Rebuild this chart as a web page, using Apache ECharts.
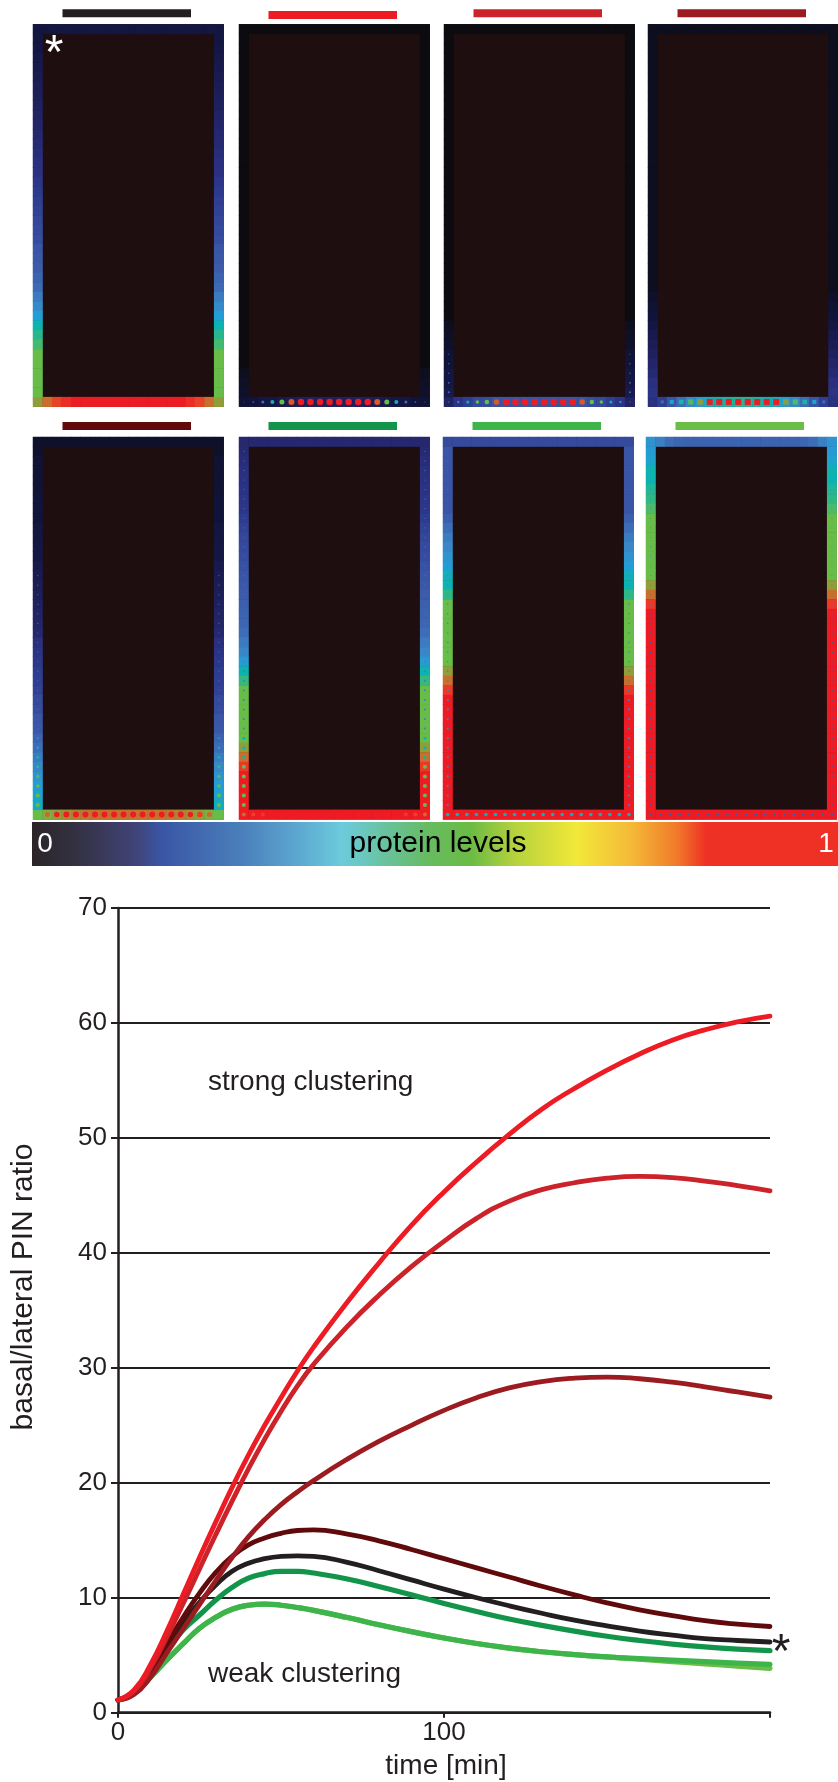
<!DOCTYPE html>
<html><head><meta charset="utf-8">
<script src="https://cdn.jsdelivr.net/npm/echarts@6/dist/echarts.min.js"></script>
<style>html,body{margin:0;padding:0;background:#fff}#c{width:838px;height:1782px}</style>
</head><body><div id="c"></div>
<script>
// ---------------- line chart data ----------------
const times = [0,5,10,15,20,25,30,35,40,45,50,55,60,70,80,90,100,110,120,130,140,150,160,170,180,190,200];
const ratioP1 = [1.1,1.8,3.5,5.8,7.8,9.6,11.1,12.3,13.0,13.4,13.6,13.65,13.6,13.1,12.35,11.55,10.75,10.0,9.3,8.65,8.05,7.55,7.1,6.75,6.45,6.28,6.15];
const ratioP2 = [1.1,2.0,4.2,7.1,10.3,13.5,16.6,19.6,22.4,25.0,27.4,29.7,31.8,35.6,39.1,42.4,45.3,47.9,50.3,52.5,54.3,55.9,57.3,58.5,59.4,60.1,60.6];
const ratioP3 = [1.1,1.9,3.9,6.6,9.5,12.5,15.5,18.4,21.2,23.8,26.2,28.4,30.3,33.5,36.3,38.8,41.0,43.0,44.5,45.5,46.1,46.5,46.65,46.55,46.25,45.85,45.4];
const ratioP4 = [1.1,1.6,3.1,5.2,7.3,9.4,11.5,13.5,15.3,16.8,18.1,19.2,20.2,22.0,23.6,25.0,26.3,27.4,28.25,28.8,29.1,29.2,29.05,28.75,28.35,27.9,27.45];
const ratioP5 = [1.1,1.8,3.6,6.0,8.3,10.4,12.2,13.6,14.6,15.2,15.6,15.85,15.9,15.55,14.95,14.2,13.4,12.6,11.8,11.0,10.25,9.55,8.95,8.45,8.0,7.7,7.5];
const ratioP6 = [1.1,1.8,3.5,5.5,7.2,8.5,9.8,10.9,11.7,12.1,12.3,12.3,12.15,11.65,10.98,10.25,9.5,8.8,8.15,7.6,7.1,6.65,6.28,5.97,5.72,5.53,5.4];
const ratioP7 = [1.1,1.7,3.1,4.6,6.0,7.35,8.3,9.0,9.35,9.45,9.35,9.15,8.9,8.3,7.65,7.05,6.5,6.02,5.62,5.3,5.05,4.85,4.7,4.57,4.44,4.32,4.2];
const ratioP8 = [1.1,1.7,3.1,4.6,6.0,7.35,8.3,9.0,9.35,9.45,9.35,9.15,8.9,8.3,7.65,7.05,6.5,6.02,5.62,5.3,5.05,4.85,4.65,4.45,4.25,4.05,3.85];
const panelColors = ['#231f20','#ed1c24','#cc2229','#9b1b20','#600a0c','#12954a','#3db54a','#6abd45'];
const yTicks = [0,10,20,30,40,50,60,70];
const xTickLabels = ['0','100',''];

// ---------------- heat map panels (protein level 0..1) ----------------
// top row (20 cells), side columns (40 cells, top->bottom), bottom row (20 cells)
const p1Top = [.07,.07,.07,.07,.07,.07,.07,.07,.07,.07,.07,.07,.07,.07,.07,.07,.07,.07,.07,.07];
const p1Col = [.07,.07,.08,.09,.10,.11,.12,.13,.14,.15,.16,.17,.18,.19,.20,.21,.23,.25,.27,.28,.29,.30,.31,.33,.34,.35,.37,.39,.44,.48,.53,.60,.64,.68,.73,.73,.73,.73,.73,.80];
const p1Bottom = [.80,.87,.93,.97,1,1,1,1,1,1,1,1,1,1,1,1,.97,.93,.87,.80];

const p2Top = [0,0,0,0,0,0,0,0,0,0,0,0,0,0,0,0,0,0,0,0];
const p2Col = [0,0,0,0,0,0,0,0,0,0,0,0,0,0,0,0,0,0,0,0,0,0,0,0,0,0,0,0,0,0,0,0,0,0,0,0,.02,.03,.04,.05];
const p2Bottom = [.05,.06,.07,.08,.10,.12,.13,.14,.14,.14,.14,.14,.14,.13,.12,.10,.08,.07,.06,.05];
const p2BottomDot = [.2,.3,.4,.58,.73,.9,1,1,1,1,1,1,1,1,.9,.73,.58,.4,.3,.2];
const p2BottomDotSize = [1.5,2,3,4,5,6,6.5,6.5,6.5,6.5,6.5,6.5,6.5,6.5,6,5,4,3,2,1.5];

const p3Top = [0,0,0,0,0,0,0,0,0,0,0,0,0,0,0,0,0,0,0,0];
const p3Col = [0,0,0,0,0,0,0,0,0,0,0,0,0,0,0,0,0,0,0,0,0,0,0,0,0,0,0,0,0,0,0,.02,.03,.04,.05,.06,.07,.08,.10,.13];
const p3Bottom = [.15,.22,.27,.30,.31,.33,.33,.33,.33,.33,.33,.33,.33,.33,.33,.31,.30,.27,.22,.15];
const p3BottomDot = [.35,.45,.6,.73,.73,.9,1,1,1,1,1,1,1,1,.9,.73,.73,.6,.45,.35];
const p3BottomDotSize = [1.5,2.5,3,3.5,4.5,5.5,6.5,6.5,6.5,6.5,6.5,6.5,6.5,6.5,5.5,4.5,3.5,3,2.5,1.5];
const p3ColDot = [0,0,0,0,0,0,0,0,0,0,0,0,0,0,0,0,0,0,0,0,0,0,0,0,0,0,0,0,0,0,0,0,0,0,.35,.35,.35,.4,.4,0];
const p3ColDotSize = [0,0,0,0,0,0,0,0,0,0,0,0,0,0,0,0,0,0,0,0,0,0,0,0,0,0,0,0,0,0,0,0,0,0,1.2,1.4,1.6,1.8,2,0];

const p4Top = [.02,.02,.02,.02,.02,.02,.02,.02,.02,.02,.02,.02,.02,.02,.02,.02,.02,.02,.02,.02];
const p4Col = [.02,.02,.02,.02,.02,.02,.02,.02,.02,.02,.02,.02,.02,.02,.02,.02,.02,.02,.02,.02,.02,.02,.02,.02,.02,.02,.02,.02,.04,.05,.06,.08,.10,.12,.14,.16,.18,.20,.22,.20];
const p4Bottom = [.20,.27,.33,.40,.47,.53,.58,.60,.62,.63,.63,.62,.60,.58,.53,.47,.40,.33,.27,.20];
const p4BottomDot = [.25,.4,.55,.62,.7,.8,1,1,1,1,1,1,1,1,.8,.7,.62,.55,.4,.25];
const p4BottomDotSize = [2,3,4,4.5,5,5.5,6,6,6,6,6,6,6,6,5.5,5,4.5,4,3,2];

const p5Top = [.04,.04,.04,.04,.04,.04,.04,.04,.04,.04,.04,.04,.04,.04,.04,.04,.04,.04,.04,.04];
const p5Col = [.04,.04,.05,.05,.05,.05,.06,.06,.06,.07,.07,.08,.08,.10,.11,.12,.13,.14,.15,.16,.17,.20,.22,.24,.26,.27,.28,.30,.31,.33,.34,.37,.40,.44,.47,.50,.53,.55,.57,.73];
const p5Bottom = [.73,.76,.80,.82,.84,.85,.86,.86,.86,.86,.86,.86,.86,.86,.85,.84,.82,.80,.76,.73];
const p5BottomDot = [.73,.88,1,1,1,1,1,1,1,1,1,1,1,1,1,1,1,.95,.88,.73];
const p5BottomDotSize = [4,5,5.5,6,6,6,6,6,6,6,6,6,6,6,6,6,5.5,5.5,5,4];
const p5ColDot = [0,0,0,0,0,0,0,0,0,0,0,0,0,0,.4,.4,.4,.4,.4,.4,.4,.4,.4,.4,.4,.4,.4,.4,.4,.4,.4,.5,.55,.6,.65,.7,.73,.73,.73,0];
const p5ColDotSize = [0,0,0,0,0,0,0,0,0,0,0,0,0,0,1.2,1.2,1.2,1.2,1.2,1.2,1.2,1.2,1.2,1.2,1.2,1.2,1.2,1.2,1.2,1.2,1.2,2,2.5,3,3,3.5,3.5,4,4,0];

const p6Top = [.17,.17,.17,.17,.17,.17,.17,.17,.17,.17,.17,.17,.17,.17,.17,.17,.17,.17,.17,.17];
const p6Col = [.17,.18,.19,.20,.21,.22,.23,.24,.26,.28,.29,.30,.31,.32,.33,.34,.35,.36,.37,.38,.40,.44,.47,.52,.60,.66,.73,.73,.73,.73,.73,.73,.80,.87,.95,1,1,1,1,1];
const p6Bottom = [1,1,1,1,1,1,1,1,1,1,1,1,1,1,1,1,1,1,1,1];
const p6BottomDot = [.87,.93,.95,1,1,1,1,1,1,1,1,1,1,1,1,1,1,.95,.93,.87];
const p6BottomDotSize = [4,4,4,4,4,4,4,4,4,4,4,4,4,4,4,4,4,4,4,4];
const p6ColDot = [0,.42,.42,.42,.42,.42,.42,.42,.42,.42,.42,.42,.42,.42,.42,.42,.42,.42,.42,.42,.42,.42,.42,.42,.45,.45,.45,.45,.45,.45,.45,.6,.6,.6,.73,.73,.73,.73,.73,0];
const p6ColDotSize = [0,1.2,1.2,1.2,1.2,1.2,1.2,1.2,1.2,1.2,1.2,1.2,1.2,1.2,1.2,1.2,1.2,1.2,1.2,1.2,1.2,1.2,1.2,1.2,2,2,2,2,2,2,2,3,3,3,4,4,4,4,4,0];

const p7Top = [.30,.30,.30,.30,.30,.30,.30,.30,.30,.30,.30,.30,.30,.30,.30,.30,.30,.30,.30,.30];
const p7Col = [.33,.33,.33,.33,.33,.33,.33,.33,.36,.40,.44,.47,.50,.53,.58,.60,.65,.73,.73,.73,.73,.73,.73,.73,.80,.87,.95,1,1,1,1,1,1,1,1,1,1,1,1,1];
const p7Bottom = [1,1,1,1,1,1,1,1,1,1,1,1,1,1,1,1,1,1,1,1];
const p7BottomDot = [.58,.58,.58,.58,.58,.58,.58,.58,.58,.58,.58,.58,.58,.58,.58,.58,.58,.58,.58,.58];
const p7BottomDotSize = [3.5,3.5,3.5,3.5,3.5,3.5,3.5,3.5,3.5,3.5,3.5,3.5,3.5,3.5,3.5,3.5,3.5,3.5,3.5,3.5];
const p7ColDot = [0,.42,.42,.42,.42,.42,.42,.42,.42,.42,.42,.42,.42,.42,.42,.42,.42,.45,.45,.45,.45,.45,.45,.45,.45,.45,.45,.45,.45,.45,.45,.45,.45,.45,.45,.45,.45,.45,.45,0];
const p7ColDotSize = [0,1,1,1,1,1,1,1,1,1,1,1,1,1,1,1,1,1.5,1.5,1.5,1.5,1.5,1.5,1.5,1.5,1.5,2.2,2.2,2.2,2.2,2.2,2.2,2.2,2.2,2.2,2.2,2.2,2.2,2.2,0];

const p8Top = [.50,.45,.40,.38,.37,.37,.37,.37,.37,.37,.37,.37,.37,.37,.37,.37,.38,.40,.45,.50];
const p8Col = [.50,.52,.55,.60,.60,.63,.65,.69,.73,.73,.73,.73,.73,.73,.73,.80,.87,.95,1,1,1,1,1,1,1,1,1,1,1,1,1,1,1,1,1,1,1,1,1,1];
const p8Bottom = [1,1,1,1,1,1,1,1,1,1,1,1,1,1,1,1,1,1,1,1];
const p8BottomDot = [.35,.35,.35,.35,.35,.35,.35,.35,.35,.35,.35,.35,.35,.35,.35,.35,.35,.35,.35,.35];
const p8BottomDotSize = [2.5,2.5,2.5,2.5,2.5,2.5,2.5,2.5,2.5,2.5,2.5,2.5,2.5,2.5,2.5,2.5,2.5,2.5,2.5,2.5];
const p8ColDot = [0,.45,.45,.45,.45,.45,.45,.45,.45,.45,.45,.45,.45,.45,.45,.45,.45,.45,.35,.35,.35,.35,.35,.35,.35,.35,.35,.35,.35,.35,.35,.35,.35,.35,.35,.35,.35,.35,.35,0];
const p8ColDotSize = [0,1,1,1,1,1,1,1,1,1,1,1,1,1,1,1,1,1,1.8,1.8,1.8,1.8,1.8,1.8,1.8,1.8,1.8,1.8,1.8,1.8,1.8,1.8,1.8,1.8,1.8,1.8,1.8,1.8,1.8,0];

// ---------------- styling / layout ----------------
const FONT = '"Liberation Sans", Arial, Helvetica, sans-serif';
const INK = '#231f20';
const PALETTE = ['#0b0b10','#12153f','#1e1f5a','#2a2f7e','#2e3d91','#3b56a6','#3d6db7','#3a86c6','#229fd6','#0db3b0','#3cb878','#6abd45','#8f9d3a','#c8702c','#ea4128','#ed1c24'];
const panelLefts = [33,239,444,648,33,239,443,646];
const panelTops = [24.3,24.3,24.3,24.3,437,437,437,437];
const panelW = 190.7, panelH = 382.4;
const barTops = [9.3,11,9.3,9.3,422,422,422,422];
const NX = 20, NY = 40;

function cells(top, col, bottom) {
  const d = [];
  for (let x = 0; x < NX; x++) { d.push([x, 0, top[x]]); d.push([x, NY - 1, bottom[x]]); }
  for (let y = 1; y < NY - 1; y++) { d.push([0, y, col[y]]); d.push([NX - 1, y, col[y]]); }
  return d;
}
function dots(bLv, bSz, cLv, cSz) {
  const d = [];
  if (bLv) for (let x = 0; x < NX; x++) if (bSz[x] > 0) d.push([x, NY - 1, bLv[x], bSz[x]]);
  if (cLv) for (let y = 1; y < NY - 1; y++) if (cSz[y] > 0) { d.push([0, y, cLv[y], cSz[y]]); d.push([NX - 1, y, cLv[y], cSz[y]]); }
  return d;
}
const panelCells = [
  cells(p1Top, p1Col, p1Bottom), cells(p2Top, p2Col, p2Bottom), cells(p3Top, p3Col, p3Bottom), cells(p4Top, p4Col, p4Bottom),
  cells(p5Top, p5Col, p5Bottom), cells(p6Top, p6Col, p6Bottom), cells(p7Top, p7Col, p7Bottom), cells(p8Top, p8Col, p8Bottom)
];
const panelDots = [
  [], dots(p2BottomDot, p2BottomDotSize), dots(p3BottomDot, p3BottomDotSize, p3ColDot, p3ColDotSize), dots(p4BottomDot, p4BottomDotSize),
  dots(p5BottomDot, p5BottomDotSize, p5ColDot, p5ColDotSize), dots(p6BottomDot, p6BottomDotSize, p6ColDot, p6ColDotSize),
  dots(p7BottomDot, p7BottomDotSize, p7ColDot, p7ColDotSize), dots(p8BottomDot, p8BottomDotSize, p8ColDot, p8ColDotSize)
];

const ratios = [ratioP1, ratioP2, ratioP3, ratioP4, ratioP5, ratioP6, ratioP7, ratioP8];
const drawOrder = [7, 6, 5, 0, 4, 3, 2, 1];

const grids = [{left: 118, top: 908, width: 652, height: 804.7}];
const xAxes = [{
  gridIndex: 0, type: 'value', min: 0, max: 200, interval: 100,
  axisLine: {lineStyle: {color: INK, width: 2.5}},
  axisTick: {length: 5, lineStyle: {color: INK, width: 2}},
  axisLabel: {fontSize: 26, color: INK, fontFamily: FONT, margin: 7, formatter: (v) => xTickLabels[Math.round(v / 100)]},
  splitLine: {show: false}
}];
const yAxes = [{
  gridIndex: 0, type: 'value', min: yTicks[0], max: yTicks[yTicks.length - 1], interval: yTicks[1] - yTicks[0],
  axisLine: {lineStyle: {color: INK, width: 2.5}},
  axisTick: {length: 7, lineStyle: {color: INK, width: 2}},
  axisLabel: {fontSize: 26, color: INK, fontFamily: FONT, margin: 11},
  splitLine: {show: true, lineStyle: {color: INK, width: 2.2}}
}];
const series = [];
drawOrder.forEach((i) => {
  series.push({
    type: 'line', xAxisIndex: 0, yAxisIndex: 0, showSymbol: false, smooth: 0.5,
    lineStyle: {color: panelColors[i], width: i >= 5 ? 5.2 : 4.8, cap: 'round', join: 'round'},
    data: times.map((t, k) => [t, ratios[i][k]])
  });
});
const mapSeries = [];
for (let p = 0; p < 8; p++) {
  grids.push({left: panelLefts[p], top: panelTops[p], width: panelW, height: panelH, show: true, backgroundColor: '#1f0e10', borderWidth: 0});
  xAxes.push({gridIndex: p + 1, type: 'category', data: Array.from({length: NX}, (_, i) => i), show: false});
  yAxes.push({gridIndex: p + 1, type: 'category', data: Array.from({length: NY}, (_, i) => i), inverse: true, show: false});
}
for (let p = 0; p < 8; p++) {
  mapSeries.push(series.length);
  series.push({type: 'heatmap', xAxisIndex: p + 1, yAxisIndex: p + 1, data: panelCells[p], itemStyle: {borderWidth: 0}, emphasis: {disabled: true}});
}
for (let p = 0; p < 8; p++) {
  mapSeries.push(series.length);
  series.push({type: 'scatter', xAxisIndex: p + 1, yAxisIndex: p + 1, data: panelDots[p],
    symbol: p === 3 ? 'rect' : 'circle', symbolSize: (v) => v[3], itemStyle: {opacity: 1}, emphasis: {disabled: true}, z: 3});
}

const graphic = [];
for (let p = 0; p < 8; p++) {
  graphic.push({type: 'rect', shape: {x: panelLefts[p] + 29.5, y: barTops[p], width: 128.5, height: 8}, style: {fill: panelColors[p]}});
}
graphic.push({type: 'rect', shape: {x: 32, y: 822, width: 806, height: 44}, style: {
  fill: new echarts.graphic.LinearGradient(0, 0, 1, 0, [
    {offset: 0, color: '#2b2529'}, {offset: 0.05, color: '#33303f'}, {offset: 0.13, color: '#404478'},
    {offset: 0.16, color: '#3a55a5'}, {offset: 0.26, color: '#4a7fbb'}, {offset: 0.33, color: '#5ca8d0'},
    {offset: 0.385, color: '#6ccbdc'}, {offset: 0.44, color: '#68c29c'}, {offset: 0.49, color: '#66bb62'},
    {offset: 0.545, color: '#6cbb45'}, {offset: 0.6, color: '#b6d23e'}, {offset: 0.676, color: '#f2e838'},
    {offset: 0.745, color: '#f5b838'}, {offset: 0.8, color: '#f07a2a'}, {offset: 0.836, color: '#ee3124'},
    {offset: 1, color: '#ee3124'}])}});
graphic.push({type: 'text', x: 45, y: 844, style: {text: '0', fill: '#ffffff', font: '28px ' + FONT, textAlign: 'center', textVerticalAlign: 'middle'}});
graphic.push({type: 'text', x: 826, y: 844, style: {text: '1', fill: '#ffffff', font: '28px ' + FONT, textAlign: 'center', textVerticalAlign: 'middle'}});
graphic.push({type: 'text', x: 438, y: 844, style: {text: 'protein levels', fill: '#000000', font: '30px ' + FONT, textAlign: 'center', textVerticalAlign: 'middle'}});
graphic.push({type: 'text', x: 54, y: 55, z: 10, style: {text: '*', fill: '#ffffff', font: '48px ' + FONT, textAlign: 'center', textVerticalAlign: 'middle'}});
graphic.push({type: 'text', x: 208, y: 1082, style: {text: 'strong clustering', fill: INK, font: '28px ' + FONT, textAlign: 'left', textVerticalAlign: 'middle'}});
graphic.push({type: 'text', x: 208, y: 1674.5, style: {text: 'weak clustering', fill: INK, font: '28px ' + FONT, textAlign: 'left', textVerticalAlign: 'middle'}});
graphic.push({type: 'text', x: 781, y: 1654, style: {text: '*', fill: INK, font: '48px ' + FONT, textAlign: 'center', textVerticalAlign: 'middle'}});
graphic.push({type: 'text', x: 446, y: 1766, style: {text: 'time [min]', fill: INK, font: '28px ' + FONT, textAlign: 'center', textVerticalAlign: 'middle'}});
graphic.push({type: 'text', x: 23.5, y: 1287, rotation: Math.PI / 2, style: {text: 'basal/lateral PIN ratio', fill: INK, font: '30px ' + FONT, textAlign: 'center', textVerticalAlign: 'middle'}});

const chart = echarts.init(document.getElementById('c'), null, {renderer: 'canvas'});
chart.setOption({
  animation: false,
  backgroundColor: '#ffffff',
  textStyle: {fontFamily: FONT},
  grid: grids, xAxis: xAxes, yAxis: yAxes,
  visualMap: {type: 'continuous', show: false, min: 0, max: 1, dimension: 2, seriesIndex: mapSeries, inRange: {color: PALETTE}},
  series: series,
  graphic: graphic
});
</script></body></html>
